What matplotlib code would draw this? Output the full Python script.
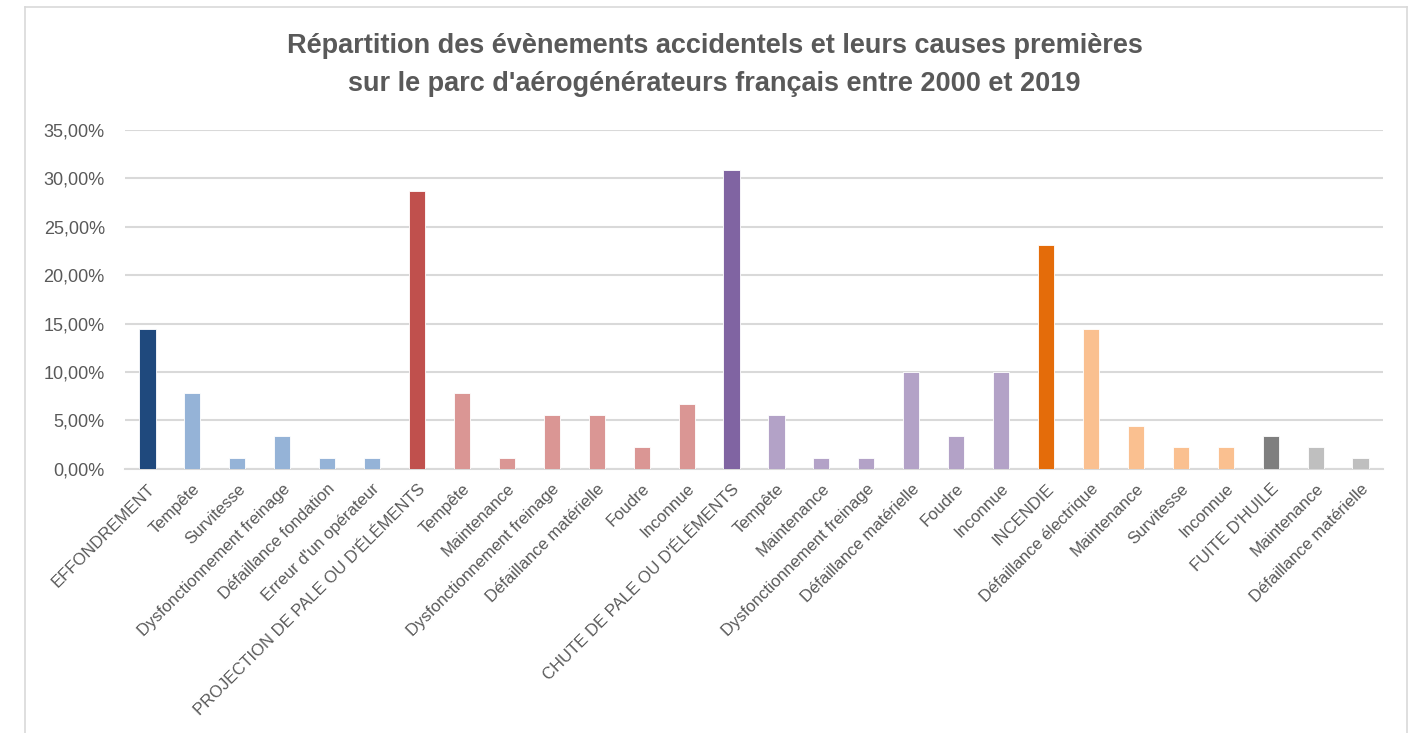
import matplotlib.pyplot as plt
from matplotlib.lines import Line2D
from matplotlib.ticker import FuncFormatter

# Categories (event type in capitals, followed by its root causes)
labels = [
    "EFFONDREMENT", "Tempête", "Survitesse", "Dysfonctionnement freinage",
    "Défaillance fondation", "Erreur d'un opérateur",
    "PROJECTION DE PALE OU D'ÉLÉMENTS", "Tempête", "Maintenance",
    "Dysfonctionnement freinage", "Défaillance matérielle", "Foudre", "Inconnue",
    "CHUTE DE PALE OU D'ÉLÉMENTS", "Tempête", "Maintenance",
    "Dysfonctionnement freinage", "Défaillance matérielle", "Foudre", "Inconnue",
    "INCENDIE", "Défaillance électrique", "Maintenance", "Survitesse", "Inconnue",
    "FUITE D'HUILE", "Maintenance", "Défaillance matérielle",
]
# share of events, in %
values = [
    14.44, 7.78, 1.11, 3.33, 1.11, 1.11,
    28.72, 7.78, 1.11, 5.56, 5.56, 2.22, 6.67,
    30.85, 5.56, 1.11, 1.11, 10.0, 3.33, 10.0,
    23.14, 14.44, 4.44, 2.22, 2.22,
    3.33, 2.22, 1.11,
]
# event group of each bar
groups = ["eff"] * 6 + ["proj"] * 7 + ["chute"] * 7 + ["inc"] * 5 + ["fuite"] * 3

# colours: (event, cause)
palette = {
    "eff": ("#1f497d", "#95b3d7"),
    "proj": ("#c0504d", "#da9694"),
    "chute": ("#8064a2", "#b3a2c7"),
    "inc": ("#e46c0a", "#fac090"),
    "fuite": ("#7f7f7f", "#bfbfbf"),
}
colors = []
prev = None
for g in groups:
    colors.append(palette[g][0] if g != prev else palette[g][1])
    prev = g

plt.rcParams['font.family'] = ['Liberation Sans', 'DejaVu Sans']
txt = "#595959"

fig = plt.figure(figsize=(14.15, 7.33), dpi=100)
ax = fig.add_axes([125 / 1415, 1 - 468.7 / 733, (1383 - 125) / 1415, (468.7 - 130) / 733])

x = list(range(len(values)))
ax.bar(x, values, width=0.36, color=colors, edgecolor="white", linewidth=0.6, zorder=3)

ax.set_xlim(-0.5, len(values) - 0.5)
ax.set_ylim(0, 35)
ax.set_yticks([0, 5, 10, 15, 20, 25, 30, 35])
ax.yaxis.set_major_formatter(FuncFormatter(lambda v, p: f"{v:.2f}%".replace(".", ",")))
ax.grid(axis="y", color="#d9d9d9", linewidth=1.5, zorder=0)
ax.set_axisbelow(True)
for s in ["top", "right", "left"]:
    ax.spines[s].set_visible(False)
ax.spines["bottom"].set_color("#d9d9d9")
ax.spines["bottom"].set_linewidth(1.5)

ax.tick_params(axis="y", length=0, pad=14.5, labelsize=13, labelcolor=txt)
ax.tick_params(axis="x", length=0, pad=9, labelsize=12, labelcolor=txt)
ax.set_xticks(x)
ax.set_xticklabels(labels, rotation=45, ha="right", va="top", rotation_mode="anchor")

fig.text(0.505, 1 - 46 / 733, "Répartition des évènements accidentels et leurs causes premières",
         ha="center", va="center", fontsize=19.5, fontweight="bold", color=txt)
fig.text(0.505, 1 - 84 / 733, "sur le parc d'aérogénérateurs français entre 2000 et 2019",
         ha="center", va="center", fontsize=19.5, fontweight="bold", color=txt)

# chart area frame
for xs, ys in [([25, 25], [733, 7]), ([25, 1407], [7, 7]), ([1407, 1407], [7, 733])]:
    fig.add_artist(Line2D([v / 1415 for v in xs], [1 - v / 733 for v in ys],
                          color="#d9d9d9", linewidth=1.2))

fig.savefig("out.png", dpi=100)
